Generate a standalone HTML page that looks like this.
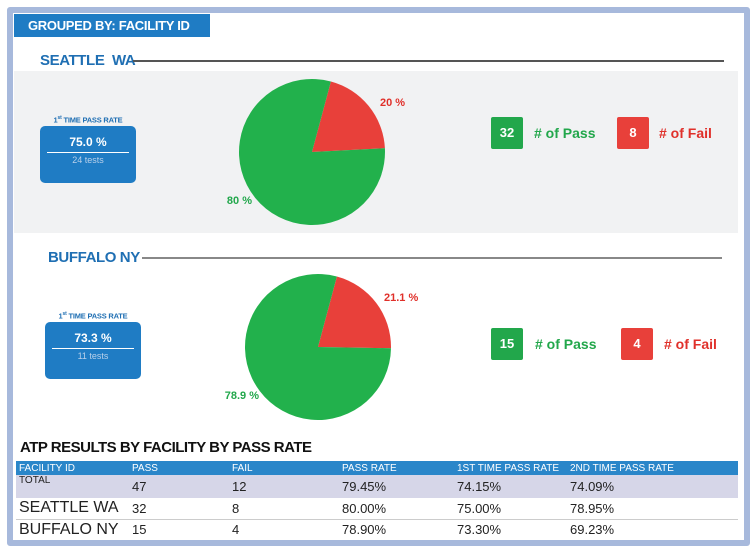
<!DOCTYPE html>
<html><head><meta charset="utf-8"><style>
*{margin:0;padding:0;box-sizing:border-box}
body{width:756px;height:553px;background:#fff;font-family:"Liberation Sans",sans-serif;position:relative;overflow:hidden}
.abs{position:absolute}
.frame{left:7px;top:7px;width:743px;height:539px;border:6px solid #a7b9dc;border-radius:3px;background:#fff}
.hdr{left:14px;top:14px;width:196px;height:23px;background:#1f7cc4;color:#fff;font-weight:bold;font-size:13px;line-height:23px;padding-left:14px;letter-spacing:-0.3px}
.sec{font-weight:bold;font-size:15px;color:#1f6fb3;letter-spacing:-0.4px}
.line{height:2px;background:#555}
.band{left:14px;top:71px;width:724px;height:162px;background:#f1f2f3}
.cap{font-weight:bold;font-size:7.5px;color:#1f6fb3;text-align:center;letter-spacing:-0.2px}
.rate{background:#1f7cc4;border-radius:5px;color:#fff;text-align:center}
.rate .v{font-weight:bold;font-size:12px;margin-top:9px}
.rate hr{border:0;border-top:1px solid #fff;margin:3px 7px 2px}
.rate .t{font-size:9px;color:#b8d0ea}
.box{width:32px;height:32px;border-radius:2px;color:#fff;font-weight:bold;font-size:13px;line-height:32px;text-align:center}
.lbl{font-weight:bold;font-size:14px}
table{border-collapse:collapse;font-family:"Liberation Sans Narrow","Liberation Sans",sans-serif}
td{padding-left:3px;white-space:nowrap;color:#222}
</style></head><body>
<div class="abs frame"></div>
<div class="abs hdr">GROUPED BY: FACILITY ID</div>

<div class="abs band"></div>
<div class="abs sec" style="left:40px;top:52px">SEATTLE&nbsp; WA</div>
<div class="abs line" style="left:133px;top:60px;width:591px"></div>
<div class="abs cap" style="left:40px;top:115px;width:96px">1<sup style="font-size:5px">st</sup> TIME PASS RATE</div>
<div class="abs rate" style="left:40px;top:126px;width:96px;height:57px"><div class="v">75.0 %</div><hr><div class="t">24 tests</div></div>

<div class="abs sec" style="left:48px;top:249px">BUFFALO NY</div>
<div class="abs line" style="left:142px;top:257px;width:580px;background:#888"></div>
<div class="abs cap" style="left:45px;top:311px;width:96px">1<sup style="font-size:5px">st</sup> TIME PASS RATE</div>
<div class="abs rate" style="left:45px;top:322px;width:96px;height:57px"><div class="v">73.3 %</div><hr><div class="t">11 tests</div></div>

<svg class="abs" id="pies" style="left:0;top:0" width="756" height="553"></svg>

<div class="abs box" style="left:491px;top:117px;background:#22a74b">32</div>
<div class="abs lbl" style="left:534px;top:125px;color:#22a74b"># of Pass</div>
<div class="abs box" style="left:617px;top:117px;background:#e8403a">8</div>
<div class="abs lbl" style="left:659px;top:125px;color:#e0302a"># of Fail</div>
<div class="abs box" style="left:491px;top:328px;background:#22a74b">15</div>
<div class="abs lbl" style="left:535px;top:336px;color:#22a74b"># of Pass</div>
<div class="abs box" style="left:621px;top:328px;background:#e8403a">4</div>
<div class="abs lbl" style="left:664px;top:336px;color:#e0302a"># of Fail</div>

<div class="abs" style="left:20px;top:439px;font-weight:bold;font-size:15px;color:#111;letter-spacing:-0.5px">ATP RESULTS BY FACILITY BY PASS RATE</div>
<table class="abs" style="left:16px;top:461px;width:722px">
<tr style="background:#2a86c9;height:14px;font-size:10px">
<td style="width:113px;color:#fff">FACILITY ID</td><td style="width:100px;color:#fff">PASS</td><td style="width:110px;color:#fff">FAIL</td><td style="width:115px;color:#fff">PASS RATE</td><td style="width:113px;color:#fff">1ST TIME PASS RATE</td><td style="color:#fff">2ND TIME PASS RATE</td></tr>
<tr style="background:#d6d6e8;height:23px;font-size:13px">
<td style="font-size:10px;vertical-align:top">TOTAL</td><td>47</td><td>12</td><td>79.45%</td><td>74.15%</td><td>74.09%</td></tr>
<tr style="height:21px;font-size:13px;border-bottom:1px solid #ccc">
<td style="font-size:16px">SEATTLE WA</td><td>32</td><td>8</td><td>80.00%</td><td>75.00%</td><td>78.95%</td></tr>
<tr style="height:21px;font-size:13px">
<td style="font-size:16px">BUFFALO NY</td><td>15</td><td>4</td><td>78.90%</td><td>73.30%</td><td>69.23%</td></tr>
</table>

<script>
const pieNames=["seattle","buffalo"];
const failPct=[20,21.1];
const passPct=[80,78.9];
const failLabels=["20 %","21.1 %"];
const passLabels=["80 %","78.9 %"];
const svg=document.getElementById('pies');
const NS="http://www.w3.org/2000/svg";
const geo=[{cx:312,cy:152,r:73,fl:[380,106],pl:[252,204]},{cx:318,cy:347,r:73,fl:[384,301],pl:[259,399]}];
function pt(g,deg){const a=deg*Math.PI/180;return [g.cx+g.r*Math.sin(a),g.cy-g.r*Math.cos(a)];}
function slice(g,a0,a1,color,name){
  const p0=pt(g,a0),p1=pt(g,a1),large=(a1-a0)>180?1:0;
  const p=document.createElementNS(NS,'path');
  p.setAttribute('d',`M${g.cx},${g.cy}L${p0[0]},${p0[1]}A${g.r},${g.r} 0 ${large} 1 ${p1[0]},${p1[1]}Z`);
  p.setAttribute('fill',color);
  
  
  svg.appendChild(p);
}
function txt(x,y,s,color,anchor,name){
  const t=document.createElementNS(NS,'text');
  t.setAttribute('x',x);t.setAttribute('y',y);t.textContent=s;
  t.setAttribute('text-anchor',anchor);
  t.setAttribute('fill',color);t.setAttribute('font-weight','bold');t.setAttribute('font-size','11');
  t.setAttribute('font-family','Liberation Sans, sans-serif');
  
  
  svg.appendChild(t);
}
pieNames.forEach((n,i)=>{
  const g=geo[i],start=15,total=failPct[i]+passPct[i];
  const fEnd=start+360*failPct[i]/total;
  slice(g,start,fEnd,'#e8403a',n+'-fail-slice');
  slice(g,fEnd,start+360,'#22b14c',n+'-pass-slice');
});
pieNames.forEach((n,i)=>{
  const g=geo[i];
  txt(g.fl[0],g.fl[1],failLabels[i],'#e0302a','start',n+'-fail-pct');
  txt(g.pl[0],g.pl[1],passLabels[i],'#22a74b','end',n+'-pass-pct');
});
</script>
</body></html>
